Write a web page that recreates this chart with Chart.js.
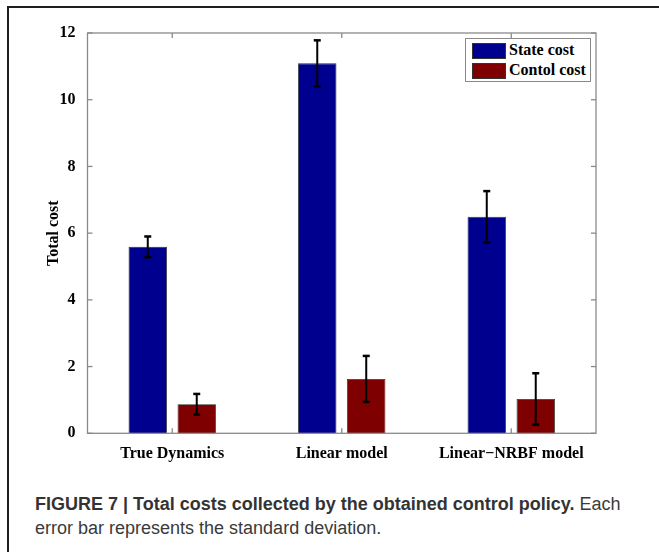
<!DOCTYPE html>
<html>
<head>
<meta charset="utf-8">
<script src="https://cdn.jsdelivr.net/npm/chart.js@4.4.1/dist/chart.umd.min.js"></script>
<style>
    body { margin: 0; background: #fff; width: 659px; height: 552px; overflow: hidden; position: relative; }
    #frame { position: absolute; left: 7px; top: 6px; width: 700px; height: 600px; border-top: 2px solid #1e1e1e; border-left: 2px solid #1e1e1e; }
    #wrap { position: absolute; left: 0; top: 0; width: 659px; height: 470px; }
    #legend { position: absolute; left: 465px; top: 38px; width: 124px; height: 42px; border: 1px solid #8a8a8a; background: #fff;
              font: bold 16px "Liberation Serif", "Times New Roman", serif; color: #000; }
    #legend .item { position: absolute; left: 6px; height: 15px; }
    #legend .swatch { position: absolute; left: 0; top: 0; width: 32px; height: 14px; border: 0.6px solid #333; }
    #legend .label { position: absolute; left: 37px; top: -3px; white-space: nowrap; line-height: 20px; }
    .caption { position: absolute; left: 35px; font-family: "Liberation Sans", Arial, sans-serif; font-size: 18px; line-height: 20px; color: #3a3a3a; white-space: nowrap; }
    .caption b { color: #333; }
</style>
</head>
<body>
<div id="frame"></div>
<div id="wrap"><canvas id="costChart" width="659" height="470"></canvas></div>
<div id="legend"></div>
<div class="caption" style="top:494px"><b>FIGURE 7 | Total costs collected by the obtained control policy.</b> Each</div>
<div class="caption" style="top:518px">error bar represents the standard deviation.</div>

<script>
const categories = ['True Dynamics', 'Linear model', 'Linear\u2212NRBF model'];
const stateCost = [5.59, 11.09, 6.49];
const stateStd = [0.31, 0.69, 0.77];
const controlCost = [0.87, 1.63, 1.03];
const controlStd = [0.31, 0.69, 0.77];
const yTicks = [0, 2, 4, 6, 8, 10, 12];

const FONT = { family: '"Liberation Serif", "Times New Roman", serif', size: 16, weight: 'bold' };

const datasets = [
    { label: 'State cost', data: stateCost, errors: stateStd, backgroundColor: '#00008f' },
    { label: 'Contol cost', data: controlCost, errors: controlStd, backgroundColor: '#7f0000' }
];

// error bars, axes box and the inward MATLAB-style ticks
const boxAndErrors = {
    id: 'boxAndErrors',
    afterDatasetsDraw(chart) {
        const { ctx, chartArea: a, scales: { x, y } } = chart;
        const line = (x1, y1, x2, y2) => {
            ctx.beginPath();
            ctx.moveTo(x1, y1);
            ctx.lineTo(x2, y2);
            ctx.stroke();
        };
        ctx.save();

        ctx.strokeStyle = '#000';
        chart.data.datasets.forEach((ds, i) => {
            chart.getDatasetMeta(i).data.forEach((bar, j) => {
                const hi = y.getPixelForValue(ds.data[j] + ds.errors[j]);
                const lo = y.getPixelForValue(ds.data[j] - ds.errors[j]);
                ctx.lineWidth = 2;
                line(bar.x, hi, bar.x, lo);
                ctx.lineWidth = 2.5;
                line(bar.x - 3.5, hi, bar.x + 3.5, hi);
                line(bar.x - 3.5, lo, bar.x + 3.5, lo);
            });
        });

        ctx.strokeStyle = '#8a8a8a';
        ctx.lineWidth = 1.3;
        ctx.strokeRect(a.left, a.top, a.right - a.left, a.bottom - a.top);
        yTicks.forEach(t => {
            const py = y.getPixelForValue(t);
            line(a.left, py, a.left + 5, py);
            line(a.right - 5, py, a.right, py);
        });
        categories.forEach((c, i) => {
            const px = x.getPixelForValue(i);
            line(px, a.top, px, a.top + 5);
            line(px, a.bottom - 5, px, a.bottom);
        });
        ctx.restore();
    }
};

new Chart(document.getElementById('costChart'), {
    type: 'bar',
    data: {
        labels: categories,
        datasets: datasets.map(ds => ({
            ...ds,
            borderColor: '#2a2a2a',
            borderWidth: 0.8,
            categoryPercentage: 0.578,
            barPercentage: 0.784
        }))
    },
    options: {
        responsive: false,
        animation: false,
        devicePixelRatio: 1,
        layout: { padding: { left: 0, top: 33, right: 63, bottom: 6.7 } },
        plugins: {
            legend: { display: false },
            tooltip: { enabled: false }
        },
        scales: {
            x: {
                grid: { display: false },
                border: { display: false },
                ticks: { font: FONT, color: '#000', padding: 3, maxRotation: 0, autoSkip: false },
                afterFit: s => { s.height = 30; }
            },
            y: {
                min: 0,
                max: 12,
                grid: { display: false },
                border: { display: false },
                ticks: { font: FONT, color: '#000', padding: 4, stepSize: 2 },
                title: { display: true, text: 'Total cost', font: FONT, color: '#000', padding: { top: 44.4, bottom: 0 } },
                afterFit: s => { s.width = 87.5; }
            }
        }
    },
    plugins: [boxAndErrors]
});

// legend box in the upper right of the axes
const legend = document.getElementById('legend');
datasets.forEach((ds, i) => {
    const item = document.createElement('div');
    item.className = 'item';
    item.style.top = (4 + i * 19.7) + 'px';
    item.innerHTML = `<div class="swatch" style="background:${ds.backgroundColor}"></div><span class="label">${ds.label}</span>`;
    legend.appendChild(item);
});
</script>
</body>
</html>
